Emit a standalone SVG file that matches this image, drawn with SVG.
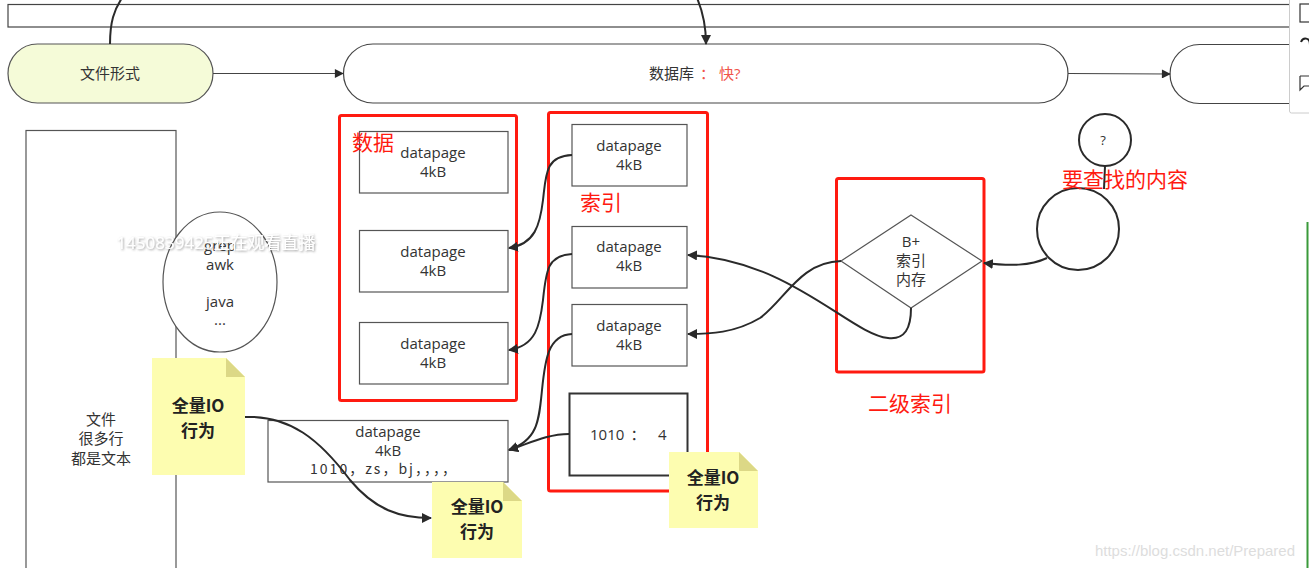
<svg xmlns="http://www.w3.org/2000/svg" width="1309" height="568" viewBox="0 0 1309 568">
<style>
text{font-family:"Open Sans","Noto Sans CJK SC",sans-serif;font-size:15px;fill:#333;text-anchor:middle}
.box{fill:#fff;stroke:#555;stroke-width:1.2}
.pill{fill:#fff;stroke:#444;stroke-width:1.2}
.red{fill:none;stroke:#ff1a10;stroke-width:3}
.rt{fill:#ff1a10;font-family:"Noto Sans CJK SC",sans-serif;font-size:21px;text-anchor:start}
.conn{fill:none;stroke:#2a2a2a;stroke-width:2}
.thin{fill:none;stroke:#444;stroke-width:1.2}
.note{fill:#fdfdb0}
.fold{fill:#dcd886}
.nt{font-family:"Noto Sans CJK SC",sans-serif;font-weight:bold;font-size:17px;fill:#222}
.st{text-anchor:start}
</style>
<defs>
<marker id="ah" viewBox="0 0 10 10" refX="9" refY="5" markerWidth="10" markerHeight="10" markerUnits="userSpaceOnUse" orient="auto">
<path d="M0,0 L10,5 L0,10 z" fill="#2a2a2a"/>
</marker>
<marker id="ahs" viewBox="0 0 10 10" refX="9" refY="5" markerWidth="11" markerHeight="9" markerUnits="userSpaceOnUse" orient="auto">
<path d="M0,0 L10,5 L0,10 z" fill="#2a2a2a"/>
</marker>
<filter id="sh" x="-10%" y="-50%" width="120%" height="200%">
<feDropShadow dx="1" dy="1" stdDeviation="1.2" flood-color="#555" flood-opacity="0.6"/>
</filter>
</defs>
<rect width="1309" height="568" fill="#fff"/>

<g id="topbar"><rect x="8" y="4.5" width="1320" height="22.5" fill="#fff" stroke="#444" stroke-width="1.2"/></g>

<g id="file-pill">
<rect x="8" y="44" width="205" height="59" rx="29.5" fill="#f5fbd8" stroke="#555" stroke-width="1.2"/>
<text x="110" y="79">文件形式</text>
</g>
<g id="db-pill">
<rect x="343.5" y="44" width="724.5" height="59" rx="29.5" class="pill"/>
<text class="st" x="649" y="79">数据库</text>
<text class="st" x="700" y="79" style="fill:#f0544a">：</text>
<text class="st" x="719" y="79" style="fill:#f0544a">快?</text>
</g>
<g id="next-pill">
<rect x="1170" y="44.5" width="160" height="59" rx="29.5" class="pill"/>
</g>

<g id="file-box">
<rect x="26" y="130.5" width="150" height="460" class="box"/>
<text x="101" y="425">文件</text>
<text x="101" y="444">很多行</text>
<text x="101" y="464">都是文本</text>
</g>

<g id="tools">
<ellipse cx="220" cy="282" rx="57" ry="70" class="box"/>
<text x="220" y="251">grep</text>
<text x="220" y="270">awk</text>
<text x="220" y="307">java</text>
<text x="220" y="325">...</text>
</g>

<g id="data1"><rect x="359.5" y="131.5" width="148.5" height="61.5" class="box"/><text x="433" y="158">datapage</text><text x="433" y="177">4kB</text></g>
<g id="data2"><rect x="359.5" y="230.5" width="148.5" height="61.5" class="box"/><text x="433" y="257">datapage</text><text x="433" y="276">4kB</text></g>
<g id="data3"><rect x="359.5" y="322.5" width="148.5" height="61.5" class="box"/><text x="433" y="349">datapage</text><text x="433" y="368">4kB</text></g>
<g id="data-group">
<rect x="339.5" y="115.5" width="177" height="285" rx="2" class="red"/>
<text class="rt" x="352" y="150">数据</text>
</g>

<g id="idx1"><rect x="572" y="124.5" width="115" height="61.5" class="box"/><text x="629" y="151">datapage</text><text x="629" y="170">4kB</text></g>
<g id="idx2"><rect x="572" y="226.5" width="115" height="61.5" class="box"/><text x="629" y="252">datapage</text><text x="629" y="271">4kB</text></g>
<g id="idx3"><rect x="572" y="304.5" width="115" height="61.5" class="box"/><text x="629" y="331">datapage</text><text x="629" y="350">4kB</text></g>
<g id="idx-entry"><rect x="569.5" y="393.5" width="118" height="82" fill="#fff" stroke="#333" stroke-width="2"/><text class="st" x="590" y="440">1010</text><text x="638" y="440">：</text><text class="st" x="658" y="440">4</text></g>
<g id="index-group">
<rect x="548.5" y="112.5" width="159" height="378.5" rx="2" class="red"/>
<text class="rt" x="580" y="210">索引</text>
</g>

<g id="data-row">
<rect x="268" y="420.5" width="240" height="61.5" class="box"/>
<text x="388" y="437">datapage</text>
<text x="388" y="456">4kB</text>
<text class="st" x="310" y="474" textLength="146" lengthAdjust="spacing" style="font-family:'Noto Sans CJK SC',sans-serif;font-size:14px">1010，zs，bj，，，，</text>
</g>

<g id="bplus">
<polygon points="911,215 982,261 911,308 841,261" fill="#fff" stroke="#555" stroke-width="1.2"/>
<text x="911" y="247">B+</text>
<text x="911" y="266">索引</text>
<text x="911" y="285">内存</text>
</g>
<g id="bplus-group">
<rect x="836.5" y="178.5" width="147.5" height="193.5" rx="2" class="red"/>
<text class="rt" x="868" y="411">二级索引</text>
</g>

<g id="query">
<circle cx="1105" cy="140" r="26" fill="#fff" stroke="#2a2a2a" stroke-width="2"/>
<text x="1103" y="145" style="font-size:13px">?</text>
</g>
<g id="target"><circle cx="1078" cy="229" r="41" fill="none" stroke="#2a2a2a" stroke-width="2"/></g>

<g id="notes">
<g id="note1"><path class="note" d="M152,358 H226 L245,377 V475 H152 Z"/><path class="fold" d="M226,358 L245,377 H226 Z"/><text class="nt" x="198" y="412">全量IO</text><text class="nt" x="198" y="437">行为</text></g>
<g id="note2"><path class="note" d="M432,482 H503 L522,501 V558 H432 Z"/><path class="fold" d="M503,482 L522,501 H503 Z"/><text class="nt" x="477" y="513">全量IO</text><text class="nt" x="477" y="538">行为</text></g>
<g id="note3"><path class="note" d="M669,452 H739 L758,471 V528 H669 Z"/><path class="fold" d="M739,452 L758,471 H739 Z"/><text class="nt" x="713" y="484">全量IO</text><text class="nt" x="713" y="509">行为</text></g>
</g>

<g id="connectors">
<path class="thin" d="M213,73.5 L343,73.5" marker-end="url(#ahs)"/>
<path class="thin" d="M1068,73.5 L1170,74" marker-end="url(#ahs)"/>
<path class="conn" d="M110,44 C110,22 114,10 122,-2"/>
<path class="conn" d="M697,-2 C703,12 706,25 706,44" marker-end="url(#ah)"/>
<path class="conn" d="M572,155 C545,156 546,175 543,200 C540,225 535,244 509,248" marker-end="url(#ah)"/>
<path class="conn" d="M572,254 C547,255 546,272 543,300 C540,325 536,346 509,350" marker-end="url(#ah)"/>
<path class="conn" d="M572,334 C548,335 545,360 542,390 C539,420 538,440 509,450" marker-end="url(#ah)"/>
<path class="conn" d="M569,434 C548,434 530,443 509,450" marker-end="url(#ah)"/>
<path class="conn" d="M245,417 C290,415 320,440 350,480 C375,510 400,518 431,518" marker-end="url(#ah)"/>
<path class="conn" d="M1047,258 C1030,266 1010,266 984,263" marker-end="url(#ah)"/>
<path class="conn" d="M841,261 C800,262 785,300 760,318 C735,333 710,334 688,334" marker-end="url(#ah)"/>
<path class="conn" d="M911,308 C911,328 905,340 888,338 C850,334 790,260 688,255" marker-end="url(#ah)"/>
<path class="conn" d="M1105,166 L1104,189"/>
</g>

<g id="labels">
<text class="rt" x="1062" y="187">要查找的内容</text>
</g>

<g id="overlay">
<text x="216" y="249" style="font-size:17px;fill:#fff" filter="url(#sh)">1450839425正在观看直播</text>
<text x="1195" y="556" style="font-size:15px;fill:#ddd;font-family:'Liberation Sans',sans-serif">https://blog.csdn.net/Prepared</text>
<line x1="1307.5" y1="222" x2="1307.5" y2="568" stroke="#3a9a3a" stroke-width="2"/>
<rect x="1289.5" y="-2" width="25" height="115" rx="2" fill="#fff" stroke="#ccc"/>
<rect x="1300" y="4" width="10" height="18" fill="none" stroke="#333" stroke-width="1.2"/>
<path d="M1301,42 C1303,37 1310,37 1310,45" fill="none" stroke="#222" stroke-width="2"/>
<path d="M1300,76 H1310 M1300,76 V90 L1304,86 H1310" fill="none" stroke="#333" stroke-width="1.2"/>
</g>
</svg>
